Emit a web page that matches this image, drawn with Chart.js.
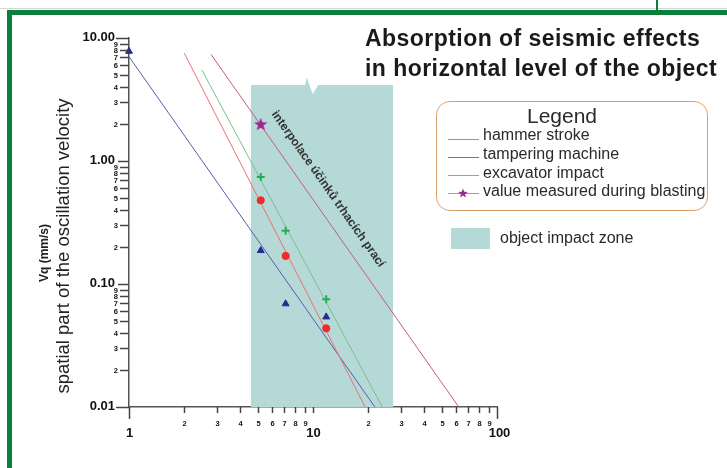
<!DOCTYPE html>
<html>
<head>
<meta charset="utf-8">
<script src="https://cdn.jsdelivr.net/npm/chart.js@4.4.1/dist/chart.umd.min.js"></script>
<style>
  html, body { margin: 0; padding: 0; background: #fff; }
  #wrap { position: relative; width: 727px; height: 468px; overflow: hidden; font-family: "Liberation Sans", Arial, sans-serif; color: #222; }
  #chartBox { position: absolute; left: 0; top: 0; width: 727px; height: 468px; }
  .abs { position: absolute; white-space: nowrap; }
  .frame { position: absolute; background: #0a7f3c; }
  .title { font-size: 23px; font-weight: bold; line-height: 23px; letter-spacing: 0.45px; color: #1a1a1a; }
  .leg { font-size: 16px; line-height: 16px; color: #2a2a2a; }
  .sample { position: absolute; height: 0; border-top: 1px solid; width: 31px; left: 448px; }
  .rot { transform: translate(-50%, -50%) rotate(-90deg); }
</style>
</head>
<body>
<div id="wrap">
  <div class="abs" style="left:0;top:8px;width:727px;height:1px;background:#d6d6d6"></div>
  <div class="frame" style="left:7px;top:10px;width:720px;height:5px"></div>
  <div class="frame" style="left:7px;top:10px;width:5px;height:458px"></div>
  <div class="frame" style="left:656px;top:0;width:2px;height:10px"></div>

  <div id="chartBox"><canvas id="chart"></canvas></div>

  <div class="abs title" style="left:365px;top:26.5px">Absorption of seismic effects</div>
  <div class="abs title" style="left:365px;top:56.5px">in horizontal level of the object</div>

  <div class="abs" style="left:436px;top:101px;width:270px;height:108px;border:1.5px solid #d9a06e;border-radius:14px"></div>
  <div class="abs" style="left:436px;top:105px;width:252px;text-align:center;font-size:21px;line-height:21px;color:#2a2a2a">Legend</div>
  <div id="legendRows"></div>

  <div class="abs" style="left:451px;top:228px;width:39px;height:21px;background:#b5d9d7"></div>
  <div class="abs leg" style="left:500px;top:230px">object impact zone</div>

  <div class="abs rot" style="left:43.5px;top:253px;font-size:12px;line-height:12px;font-weight:bold;color:#222">Vq (mm/s)</div>
  <div class="abs rot" style="left:62.6px;top:246px;font-size:18.5px;line-height:18.5px;color:#222">spatial part of the oscillation velocity</div>
</div>

<script>
// ---- data (log-log axes) ----
const xTickValues = [1, 2, 3, 4, 5, 6, 7, 8, 9, 10, 20, 30, 40, 50, 60, 70, 80, 90, 100];
const xTickLabels = ['1', '2', '3', '4', '5', '6', '7', '8', '9', '10', '2', '3', '4', '5', '6', '7', '8', '9', '100'];
const yTickValues = [0.01, 0.02, 0.03, 0.04, 0.05, 0.06, 0.07, 0.08, 0.09,
  0.1, 0.2, 0.3, 0.4, 0.5, 0.6, 0.7, 0.8, 0.9,
  1, 2, 3, 4, 5, 6, 7, 8, 9, 10];
const yTickLabels = ['0.01', '2', '3', '4', '5', '6', '7', '8', '9',
  '0.10', '2', '3', '4', '5', '6', '7', '8', '9',
  '1.00', '2', '3', '4', '5', '6', '7', '8', '9', '10.00'];

const seriesNames = ['hammer stroke', 'tampering machine', 'excavator impact', 'value measured during blasting'];

// interpolation lines (start / end)
const hammerLineX = [2.0, 19.2];
const hammerLineY = [7.5, 0.01];
const tamperLineX = [1, 21.7];
const tamperLineY = [7.05, 0.01];
const excavLineX = [2.49, 23.8];
const excavLineY = [5.5, 0.01];
const blastLineX = [2.79, 62];
const blastLineY = [7.36, 0.01];

// measured points
const hammerPtsX = [5.2, 7.1, 11.8];
const hammerPtsY = [0.479, 0.169, 0.0436];
const tamperPtsX = [1, 5.2, 7.1, 11.8];
const tamperPtsY = [7.8, 0.187, 0.069, 0.054];
const excavPtsX = [5.2, 7.1, 11.8];
const excavPtsY = [0.74, 0.271, 0.075];
const blastPtsX = [5.2];
const blastPtsY = [2.0];

// object impact zone (top outline, filled down to the axis)
const zoneX = [4.59, 9.05, 9.24, 9.96, 10.69, 27.3];
const zoneY = [4.15, 4.15, 4.79, 3.51, 4.15, 4.15];

const noteText = 'interpolace účinků trhacích prací';
const noteAt = [12.06, 0.592];

const COLORS = {
  hammer: '#ef6f6f',
  tamper: '#5a5cae',
  excav: '#7cbf8e',
  blast: '#c45a80',
  zone: '#b5d9d7'
};

function pts(xs, ys) {
  return xs.map((x, i) => ({ x, y: ys[i] }));
}

function makeStar(size, color) {
  const c = document.createElement('canvas');
  c.width = size; c.height = size;
  const g = c.getContext('2d');
  const cx = size / 2, cy = size / 2 + size * 0.05, R = size / 2, r = R * 0.42;
  g.beginPath();
  for (let i = 0; i < 10; i++) {
    const a = -Math.PI / 2 + i * Math.PI / 5;
    const rr = i % 2 ? r : R;
    g.lineTo(cx + rr * Math.cos(a), cy + rr * Math.sin(a));
  }
  g.closePath();
  g.fillStyle = color;
  g.fill();
  return c;
}

// legend rows (html)
(function buildLegend() {
  const rows = document.getElementById('legendRows');
  const tops = [126.5, 145.8, 164.8, 183.2];
  const lineY = [139, 156.5, 174.5, 193];
  const cols = [COLORS.hammer, '#6a6cc0', '#8aa8a0', '#e07aa6'];
  seriesNames.forEach((name, i) => {
    const s = document.createElement('div');
    s.className = 'sample';
    s.style.top = lineY[i] + 'px';
    s.style.borderColor = cols[i];
    rows.appendChild(s);
    const t = document.createElement('div');
    t.className = 'abs leg';
    t.style.left = '483px';
    t.style.top = tops[i] + 'px';
    t.textContent = name;
    rows.appendChild(t);
  });
  const st = makeStar(10, '#a0288c');
  st.style.position = 'absolute';
  st.style.left = '458px';
  st.style.top = (lineY[3] - 5) + 'px';
  rows.appendChild(st);
})();

const axisDecor = {
  id: 'axisDecor',
  afterDatasetsDraw(chart) {
    const { ctx, scales: { x, y } } = chart;
    // rotated note along the blasting line
    const x1 = x.getPixelForValue(blastLineX[0]), y1 = y.getPixelForValue(blastLineY[0]);
    const x2 = x.getPixelForValue(blastLineX[1]), y2 = y.getPixelForValue(blastLineY[1]);
    const ang = Math.atan2(y2 - y1, x2 - x1);
    ctx.save();
    ctx.translate(x.getPixelForValue(noteAt[0]), y.getPixelForValue(noteAt[1]));
    ctx.rotate(ang);
    ctx.font = 'bold 12px "Liberation Sans", Arial, sans-serif';
    ctx.fillStyle = '#333';
    ctx.textAlign = 'center';
    ctx.textBaseline = 'middle';
    ctx.fillText(noteText, 0, 0);
    ctx.restore();
  },
  afterDraw(chart) {
    const { ctx, chartArea: area, scales: { x, y } } = chart;
    ctx.save();
    ctx.strokeStyle = '#444';
    ctx.lineWidth = 1.5;
    ctx.fillStyle = '#111';

    // y axis
    ctx.textAlign = 'right';
    ctx.textBaseline = 'middle';
    yTickValues.forEach((v, i) => {
      const py = Math.round(y.getPixelForValue(v)) + 0.5;
      const major = yTickLabels[i].length > 1;
      const len = (i === 0 || i === yTickValues.length - 1) ? 13 : (major ? 11 : 9);
      ctx.beginPath();
      ctx.moveTo(area.left - len, py);
      ctx.lineTo(area.left, py);
      ctx.stroke();
      if (major) {
        ctx.font = 'bold 13px "Liberation Sans", Arial, sans-serif';
        ctx.fillText(yTickLabels[i], area.left - 14, py - 1);
      } else {
        ctx.font = 'bold 7.5px "Liberation Sans", Arial, sans-serif';
        ctx.fillText(yTickLabels[i], area.left - 11, py);
      }
    });

    // x axis
    ctx.textAlign = 'center';
    xTickValues.forEach((v, i) => {
      const px = Math.round(x.getPixelForValue(v)) + 0.5;
      const major = xTickLabels[i].length > 1 || i === 0;
      const len = (i === 0 || i === xTickValues.length - 1) ? 12 : 6;
      ctx.beginPath();
      ctx.moveTo(px, area.bottom);
      ctx.lineTo(px, area.bottom + len);
      ctx.stroke();
      if (major) {
        ctx.font = 'bold 13px "Liberation Sans", Arial, sans-serif';
        ctx.fillText(xTickLabels[i], px + (i === xTickValues.length - 1 ? 2 : 0), area.bottom + 26);
      } else {
        ctx.font = 'bold 7.5px "Liberation Sans", Arial, sans-serif';
        ctx.fillText(xTickLabels[i], px, area.bottom + 17);
      }
    });
    ctx.restore();
  }
};

const lineDs = (xs, ys, color) => ({
  data: pts(xs, ys),
  borderColor: color,
  borderWidth: 1,
  pointRadius: 0,
  fill: false,
  clip: false,
  order: 5
});

const starImg = makeStar(14, '#a0288c');

new Chart(document.getElementById('chart'), {
  type: 'line',
  data: {
    datasets: [
      {
        data: pts(zoneX, zoneY),
        borderWidth: 0,
        borderColor: 'rgba(0,0,0,0)',
        backgroundColor: COLORS.zone,
        pointRadius: 0,
        fill: 'start',
        order: 10
      },
      lineDs(hammerLineX, hammerLineY, COLORS.hammer),
      lineDs(tamperLineX, tamperLineY, COLORS.tamper),
      lineDs(excavLineX, excavLineY, COLORS.excav),
      lineDs(blastLineX, blastLineY, COLORS.blast),
      {
        data: pts(hammerPtsX, hammerPtsY),
        showLine: false, pointStyle: 'circle', pointRadius: 3.6, pointBorderWidth: 1,
        pointBackgroundColor: '#f22a2a', pointBorderColor: '#f22a2a', clip: false, order: 1
      },
      {
        data: pts(tamperPtsX, tamperPtsY),
        showLine: false, pointStyle: 'triangle', pointRadius: 4, pointBorderWidth: 1,
        pointBackgroundColor: '#262d8f', pointBorderColor: '#262d8f', clip: false, order: 1
      },
      {
        data: pts(excavPtsX, excavPtsY),
        showLine: false, pointStyle: 'cross', pointRadius: 4, pointBorderWidth: 2,
        pointBorderColor: '#22b04c', clip: false, order: 1
      },
      {
        data: pts(blastPtsX, blastPtsY),
        showLine: false, pointStyle: starImg, pointRadius: 7, clip: false, order: 0
      }
    ]
  },
  options: {
    responsive: true,
    maintainAspectRatio: false,
    animation: false,
    events: [],
    layout: { padding: { left: 0, right: 230, top: 38, bottom: 0 } },
    plugins: { legend: { display: false }, tooltip: { enabled: false } },
    scales: {
      x: {
        type: 'logarithmic', min: 1, max: 100,
        ticks: { display: false },
        grid: { display: true, drawOnChartArea: false, drawTicks: false },
        border: { display: true, color: '#555', width: 1.5 },
        afterFit(s) { s.height = 61; }
      },
      y: {
        type: 'logarithmic', min: 0.01, max: 10,
        ticks: { display: false },
        grid: { display: true, drawOnChartArea: false, drawTicks: false },
        border: { display: true, color: '#555', width: 1.5 },
        afterFit(s) { s.width = 129; }
      }
    }
  },
  plugins: [axisDecor]
});
</script>
</body>
</html>
